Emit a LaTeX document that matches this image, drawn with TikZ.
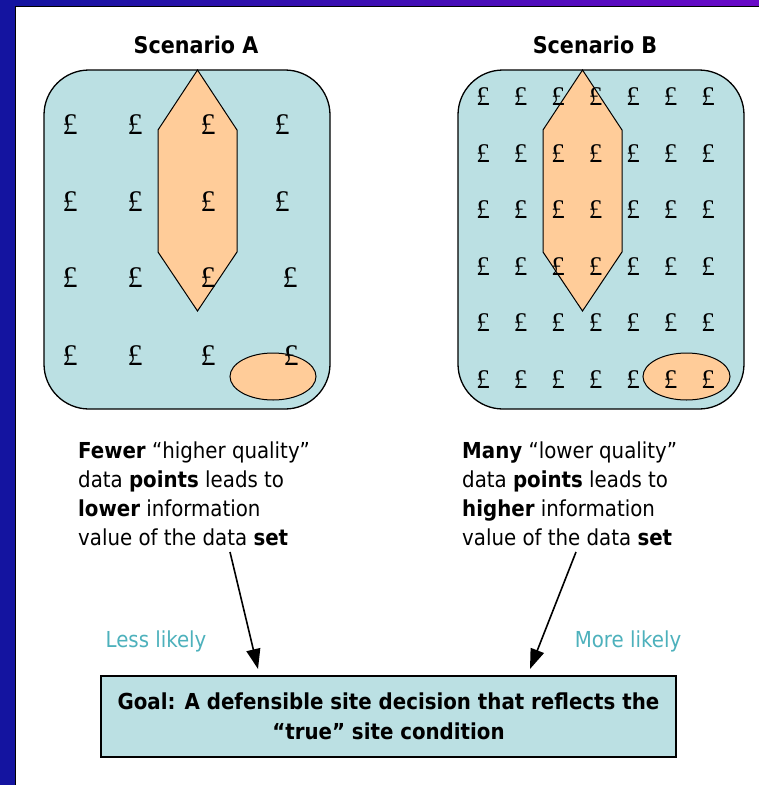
\documentclass[tikz,border=0pt]{standalone}
\usepackage{fontspec}
\setmainfont{DejaVu Sans Condensed}
\newfontfamily\poundfont{Liberation Serif}
\usetikzlibrary{arrows.meta}
\definecolor{boxcyan}{HTML}{BBE0E3}
\definecolor{peach}{HTML}{FFCC99}
\definecolor{tealtxt}{HTML}{4DB1BC}
\definecolor{frameblue}{HTML}{1414A0}
\definecolor{framepurple}{HTML}{6A0AC8}
\begin{document}
\begin{tikzpicture}[x=1pt,y=-1pt,
  scenbox/.style={draw=black,line width=1.3pt,fill=boxcyan,rounded corners=45pt},
  peachshape/.style={draw=black,line width=1pt,fill=peach},
  poundA/.style={font=\poundfont\fontsize{30}{30}\selectfont,inner sep=0pt},
  poundB/.style={font=\poundfont\fontsize{27}{27}\selectfont,inner sep=0pt},
  title/.style={font=\bfseries\fontsize{23}{23}\selectfont,inner sep=0pt},
  desc/.style={font=\fontsize{22}{29}\selectfont,align=left,inner sep=0pt},
  likely/.style={font=\fontsize{22}{22}\selectfont,text=tealtxt,inner sep=0pt},
  arr/.style={line width=1.6pt,-{Triangle[length=20pt,width=14pt]}},
  goalbox/.style={draw=black,line width=1.3pt,fill=boxcyan,minimum width=575pt,minimum height=81pt,align=center,font=\bfseries\fontsize{22}{30}\selectfont,inner sep=0pt}
]
\useasboundingbox (0,0) rectangle (759,785);
% frame
\fill[white] (0,0) rectangle (759,785);
\fill[frameblue] (0,0) rectangle (15.5,785);
\shade[left color=frameblue,right color=framepurple] (15.5,0) rectangle (759,6.5);
\draw[black,line width=1pt] (15.5,785) -- (15.5,6.5) -- (759,6.5);

% titles
\node[title] (tA) at (196,45) {Scenario A};
\node[title] (tB) at (595,45) {Scenario B};

% scenario A
\draw[scenbox] (44,70) rectangle (330,409);
\draw[peachshape] (197.5,70) -- (237,130) -- (237,252) -- (197.5,311) -- (158,252) -- (158,130) -- cycle;
\draw[peachshape] (273,376.5) ellipse [x radius=43, y radius=23.5];
\foreach \x/\y [count=\k] in {70/125,135/125,208/125,282/125,
                   70/202,135/202,208/202,282/202,
                   70/278,135/278,208/278,290/278,
                   70/356,135/356,208/356,291/356}
  \node[poundA] (pA\k) at (\x,\y) {£};

% scenario B
\draw[scenbox] (458,70) rectangle (744,409);
\draw[peachshape] (582.5,70) -- (622,130) -- (622,252) -- (582.5,311) -- (543,252) -- (543,130) -- cycle;
\draw[peachshape] (686.5,376.5) ellipse [x radius=43.5, y radius=23.5];
\foreach \x [count=\i] in {483,520.5,558,595.5,633,670.5,708}
  \foreach \y [count=\j] in {97,154,210,267,323,380}
    \node[poundB] (pB\i\j) at (\x,\y) {£};

% descriptions
\node[desc,anchor=north west] (descA) at (78,441.3)
  {\textbf{Fewer} “higher quality”\\data \textbf{points} leads to\\\textbf{lower} information\\value of the data \textbf{set}};
\node[desc,anchor=north west] (descB) at (462,441.3)
  {\textbf{Many} “lower quality”\\data \textbf{points} leads to\\\textbf{higher} information\\value of the data \textbf{set}};

% goal
\node[goalbox] (goal) at (388.5,716.5) {Goal: A defensible site decision that reflects the\\“true” site condition};

% arrows
\coordinate (sA) at (230,552);
\coordinate (eA) at (258,669);
\coordinate (sB) at (576,552);
\coordinate (eB) at (530,669);
\draw[arr] (sA) -- (eA);
\draw[arr] (sB) -- (eB);

\node[likely] (lessl) at (156,641) {Less likely};
\node[likely] (morel) at (628,641) {More likely};
\end{tikzpicture}
\end{document}
